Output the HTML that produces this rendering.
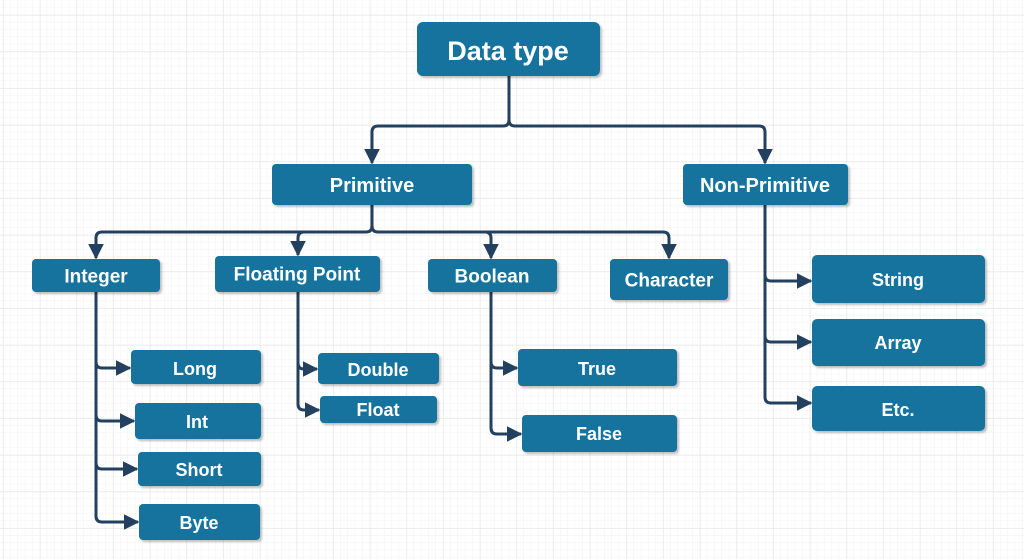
<!DOCTYPE html>
<html><head><meta charset="utf-8"><style>
html,body{margin:0;padding:0;width:1024px;height:559px;overflow:hidden;background:#fff}
svg{display:block}
text{font-family:"Liberation Sans",Arial,sans-serif;font-weight:bold;fill:#fff;text-anchor:middle;dominant-baseline:central}
</style></head><body>
<svg width="1024" height="559" viewBox="0 0 1024 559" xmlns="http://www.w3.org/2000/svg">
<defs>
<pattern id="minor" x="3.3" y="0.3" width="7.333" height="7.333" patternUnits="userSpaceOnUse">
<path d="M7.333 0V7.333M0 7.333H7.333" stroke="#f2f2f2" stroke-width="1" fill="none"/>
</pattern>
<pattern id="major" x="3.3" y="15" width="36.667" height="36.667" patternUnits="userSpaceOnUse">
<path d="M0 0V36.667M0 0H36.667" stroke="#e3e3e3" stroke-width="1" fill="none"/>
</pattern>
<filter id="sh" x="-10%" y="-10%" width="130%" height="140%">
<feDropShadow dx="2" dy="2" stdDeviation="1" flood-color="#000" flood-opacity="0.25"/>
</filter>
<marker id="ar" viewBox="0 0 10 10" refX="9" refY="5" markerWidth="5.2" markerHeight="5.2" orient="auto" markerUnits="strokeWidth">
<path d="M0 0L10 5L0 10z" fill="#23415e"/>
</marker>
</defs>
<rect width="1024" height="559" fill="#fff"/>
<rect width="1024" height="559" fill="url(#minor)"/>
<rect width="1024" height="559" fill="url(#major)"/>

<g stroke="#23415e" stroke-width="3" fill="none" stroke-linejoin="round">
<path d="M509 76V120Q509 126 503 126H378Q372 126 372 132V163" marker-end="url(#ar)"/>
<path d="M509 120Q509 126 515 126H759Q765 126 765 132V163" marker-end="url(#ar)"/>
<path d="M372 205V226Q372 232 366 232H102Q96 232 96 238V258" marker-end="url(#ar)"/>
<path d="M366 232H304Q298 232 298 238V255" marker-end="url(#ar)"/>
<path d="M372 226Q372 232 378 232H485Q491 232 491 238V258" marker-end="url(#ar)"/>
<path d="M485 232H663Q669 232 669 238V258" marker-end="url(#ar)"/>
<path d="M96 292V516Q96 522 102 522H138" marker-end="url(#ar)"/>
<path d="M96 362Q96 368 102 368H130" marker-end="url(#ar)"/>
<path d="M96 415Q96 421 102 421H134" marker-end="url(#ar)"/>
<path d="M96 463Q96 469 102 469H137" marker-end="url(#ar)"/>
<path d="M298 292V404Q298 410 304 410H319" marker-end="url(#ar)"/>
<path d="M298 363Q298 369 304 369H317" marker-end="url(#ar)"/>
<path d="M491 292V428Q491 434 497 434H521" marker-end="url(#ar)"/>
<path d="M491 362Q491 368 497 368H517" marker-end="url(#ar)"/>
<path d="M765 205V397Q765 403 771 403H811" marker-end="url(#ar)"/>
<path d="M765 275Q765 281 771 281H811" marker-end="url(#ar)"/>
<path d="M765 336Q765 342 771 342H811" marker-end="url(#ar)"/>
</g>

<g fill="#15739d" filter="url(#sh)">
<rect x="417" y="22" width="183" height="54" rx="6"/>
<rect x="272" y="164" width="200" height="41" rx="4"/>
<rect x="683" y="164" width="165" height="41" rx="4"/>
<rect x="32" y="259" width="128" height="33" rx="4"/>
<rect x="215" y="256" width="165" height="36" rx="4"/>
<rect x="428" y="259" width="129" height="33" rx="4"/>
<rect x="610" y="259" width="118" height="41" rx="4"/>
<rect x="812" y="255" width="173" height="48" rx="5"/>
<rect x="812" y="319" width="173" height="47" rx="5"/>
<rect x="812" y="386" width="173" height="45" rx="5"/>
<rect x="131" y="350" width="130" height="34" rx="4"/>
<rect x="135" y="403" width="126" height="36" rx="4"/>
<rect x="138" y="452" width="123" height="34" rx="4"/>
<rect x="139" y="504" width="121" height="36" rx="4"/>
<rect x="318" y="353" width="121" height="31" rx="4"/>
<rect x="320" y="396" width="117" height="27" rx="4"/>
<rect x="518" y="349" width="159" height="37" rx="4"/>
<rect x="522" y="415" width="155" height="37" rx="4"/>
</g>

<text x="508" y="51" font-size="27">Data type</text>
<text x="372" y="186" font-size="20">Primitive</text>
<text x="765" y="186" font-size="20">Non-Primitive</text>
<text x="96" y="277" font-size="19">Integer</text>
<text x="297" y="275" font-size="19">Floating Point</text>
<text x="492" y="277" font-size="19">Boolean</text>
<text x="669" y="281" font-size="19">Character</text>
<text x="898" y="280" font-size="18">String</text>
<text x="898" y="343" font-size="18">Array</text>
<text x="898" y="410" font-size="18">Etc.</text>
<text x="195" y="369" font-size="18">Long</text>
<text x="197" y="422" font-size="18">Int</text>
<text x="199" y="470" font-size="18">Short</text>
<text x="199" y="523" font-size="18">Byte</text>
<text x="378" y="370" font-size="18">Double</text>
<text x="378" y="410" font-size="18">Float</text>
<text x="597" y="369" font-size="18">True</text>
<text x="599" y="434" font-size="18">False</text>
</svg>
</body></html>
